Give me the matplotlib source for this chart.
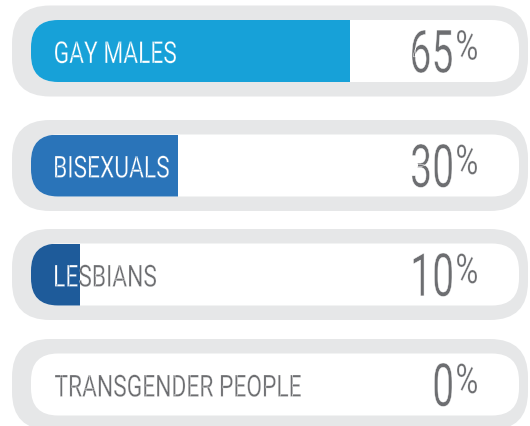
import matplotlib
matplotlib.use("Agg")
import matplotlib.pyplot as plt
from matplotlib.patches import FancyBboxPatch
from matplotlib import patheffects
from matplotlib.transforms import Affine2D
from matplotlib.textpath import TextPath, TextToPath
from matplotlib.font_manager import FontProperties

# ---- data ----
categories = ["GAY MALES", "BISEXUALS", "LESBIANS", "TRANSGENDER PEOPLE"]
values = [65, 30, 10, 0]
bar_colors = ["#17a1d8", "#2a74b9", "#1e5b9a", "#1e5b9a"]

# ---- layout (pixels) ----
W, H = 530, 427
DPI = 100
X0 = 31            # pixel of 0 %
PX_PER_PCT = 4.9   # pixels per percent
ROW_Y = [52, 166.5, 275.5, 385.5]
GREY_BG = "#e6e7e8"
TXT = "#6d6e71"
FONT = "Roboto"
FP = FontProperties(family=FONT)


class HScale(patheffects.AbstractPathEffect):
    """Compress text horizontally (condensed look) around an ink edge,
    optionally thinning the strokes with a background-coloured outline."""

    def __init__(self, sx, anchor="left", thin=0.0, bg="white"):
        super().__init__()
        self.sx = sx
        self.anchor = anchor
        self.thin = thin
        self.bg = bg

    def draw_path(self, renderer, gc, tpath, affine, rgbFace=None):
        ext = tpath.get_extents(affine)
        x0 = ext.x0 if self.anchor == "left" else ext.x1
        aff = affine + Affine2D().translate(-x0, 0).scale(self.sx, 1).translate(x0, 0)
        renderer.draw_path(gc, tpath, aff, rgbFace)
        if self.thin > 0:
            gc0 = renderer.new_gc()
            gc0.copy_properties(gc)
            gc0.set_foreground(self.bg)
            gc0.set_linewidth(self.thin)
            renderer.draw_path(gc0, tpath, aff, None)
            gc0.restore()


def ink(s, size):
    """Ink extents of string s (pixels, y up, origin at baseline start)."""
    e = TextPath((0, 0), s, size=size, prop=FP).get_extents()
    k = DPI / 72.0
    return e.x0 * k, e.x1 * k, e.y0 * k, e.y1 * k


def advance(s, size):
    fp = FP.copy()
    fp.set_size(size)
    w, h, d = TextToPath().get_text_width_height_descent(s, fp, ismath=False)
    return w * DPI / 72.0


def size_for_height(s, h_px):
    x0, x1, y0, y1 = ink(s, 100)
    return 100 * h_px / (y1 - y0)


def px(x):
    return (x - X0) / PX_PER_PCT


fig = plt.figure(figsize=(W / DPI, H / DPI), dpi=DPI)
fig.patch.set_facecolor("white")
ax = fig.add_axes([0, 0, 1, 1])
ax.set_xlim(px(0), px(W))
ax.set_ylim(H, 0)
ax.axis("off")


def rbox(x0, x1, yc, h, r, color, z):
    p = FancyBboxPatch((px(x0), yc - h / 2), px(x1) - px(x0), h,
                       boxstyle=f"round,pad=0,rounding_size={r / PX_PER_PCT}",
                       mutation_aspect=PX_PER_PCT,
                       fc=color, ec="none", zorder=z)
    ax.add_patch(p)
    return p


inners = []
for yc in ROW_Y:
    rbox(12, 528, yc, 91, 38, GREY_BG, 0)
    inners.append(rbox(31, 519, yc, 62, 27, "white", 1))

bars = ax.barh(ROW_Y, values, left=0, height=62, color=bar_colors, zorder=3)

# text sizing (ink-based)
FS_LABEL = size_for_height("H", 21.5)
lx0, lx1, _, _ = ink("GAY MALES", FS_LABEL)
SX_LABEL = 121 / (lx1 - lx0)

FS_NUM = size_for_height("65", 43)
nx0, nx1, _, _ = ink("65", FS_NUM)
SX_NUM = 40 / (nx1 - nx0)

FS_PCT = size_for_height("%", 30)
px0, px1, py0, py1 = ink("%", FS_PCT)
SX_PCT = 20 / (px1 - px0)

for i, (cat, v, yc) in enumerate(zip(categories, values, ROW_Y)):
    bar = bars[i]
    bar.set_clip_path(inners[i])
    # label: ink left at 55, cap baseline at yc+12
    cx0, _, _, _ = ink(cat, FS_LABEL)
    lx = 55 - cx0
    ax.text(px(lx), yc + 12, cat, ha="left", va="baseline", fontsize=FS_LABEL,
            family=FONT, color=TXT, zorder=2,
            path_effects=[HScale(SX_LABEL, "left", 0.2, "white")])
    t = ax.text(px(lx), yc + 12, cat, ha="left", va="baseline", fontsize=FS_LABEL,
                family=FONT, color="white", zorder=4, clip_on=True,
                path_effects=[HScale(SX_LABEL, "left", 0.2, bar_colors[i])])
    t.set_clip_path(bar)
    # number: ink right at 452, ink bottom at yc+22
    s = f"{v}"
    dx0, dx1, dy0, dy1 = ink(s, FS_NUM)
    rsb = advance(s, FS_NUM) - dx1
    ax.text(px(452 + rsb), yc + 22 + dy0, s, ha="right", va="baseline",
            fontsize=FS_NUM, family=FONT, color=TXT, zorder=5,
            path_effects=[HScale(SX_NUM, "right", 0.35, "white")])
    # percent sign: ink left at 457, ink top at yc-21
    ax.text(px(457 - px0), yc - 21 + py1, "%", ha="left", va="baseline",
            fontsize=FS_PCT, family=FONT, color=TXT, zorder=5,
            path_effects=[HScale(SX_PCT, "left", 0.2, "white")])

fig.savefig("out.png", dpi=DPI, facecolor="white")
